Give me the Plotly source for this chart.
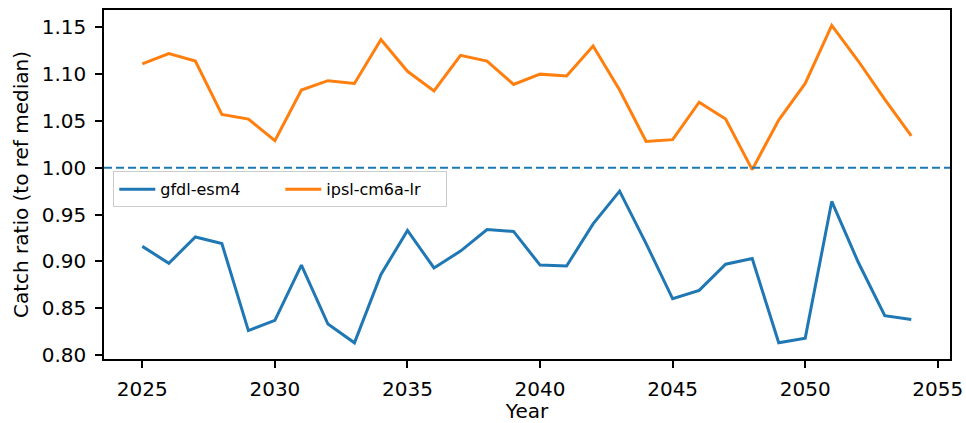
import plotly.graph_objects as go

years = list(range(2025, 2055))
gfdl_esm4 = [0.916, 0.898, 0.926, 0.919, 0.826, 0.837, 0.896, 0.833, 0.813, 0.886,
             0.933, 0.893, 0.911, 0.934, 0.932, 0.896, 0.895, 0.940, 0.975, 0.919,
             0.860, 0.869, 0.897, 0.903, 0.813, 0.818, 0.964, 0.899, 0.842, 0.838]
ipsl_cm6a_lr = [1.111, 1.122, 1.114, 1.057, 1.052, 1.029, 1.083, 1.093, 1.090, 1.137,
                1.103, 1.082, 1.120, 1.114, 1.089, 1.100, 1.098, 1.130, 1.083, 1.028,
                1.030, 1.070, 1.052, 0.998, 1.051, 1.090, 1.152, 1.114, 1.073, 1.034]
ref_value = 1.0
x_ticks = [2025, 2030, 2035, 2040, 2045, 2050, 2055]
y_ticks = [0.80, 0.85, 0.90, 0.95, 1.00, 1.05, 1.10, 1.15]

FONT = "DejaVu Sans"

fig = go.Figure()
fig.add_trace(go.Scatter(x=years, y=gfdl_esm4, mode="lines", name="gfdl-esm4",
                         line=dict(color="#1f77b4", width=3)))
fig.add_trace(go.Scatter(x=years, y=ipsl_cm6a_lr, mode="lines", name="ipsl-cm6a-lr",
                         line=dict(color="#ff7f0e", width=3)))
fig.add_hline(y=ref_value, line=dict(color="#1f77b4", width=2, dash="8px,4px"))

axis_common = dict(showline=True, linecolor="black", linewidth=1.6, mirror=True,
                   ticks="outside", ticklen=7, tickwidth=1.6, tickcolor="black",
                   showgrid=False, zeroline=False,
                   tickfont=dict(family=FONT, size=20, color="black"))

fig.update_xaxes(range=[2023.555, 2055.46], tickvals=x_ticks, ticklabelstandoff=4,
                 title=dict(text="Year", font=dict(family=FONT, size=20, color="black"), standoff=6),
                 **axis_common)
fig.update_yaxes(range=[0.7957, 1.1685], tickvals=y_ticks, tickformat=".2f", ticklabelstandoff=5,
                 title=dict(text="Catch ratio (to ref median)", font=dict(family=FONT, size=20, color="black"), standoff=8),
                 **axis_common)

fig.update_layout(
    width=966, height=423,
    margin=dict(l=104, r=16, t=10, b=64, autoexpand=False),
    plot_bgcolor="white", paper_bgcolor="white",
    font=dict(family=FONT, color="black"),
    legend=dict(orientation="h", x=0.011, y=0.538, xanchor="left", yanchor="top",
                bordercolor="#cccccc", borderwidth=1, bgcolor="rgba(255,255,255,0.8)",
                font=dict(family=FONT, size=16, color="black"),
                entrywidth=115, itemwidth=36),
)

fig.write_html("out.html", post_script="document.body.style.margin='0';",
               config={"displayModeBar": False})
